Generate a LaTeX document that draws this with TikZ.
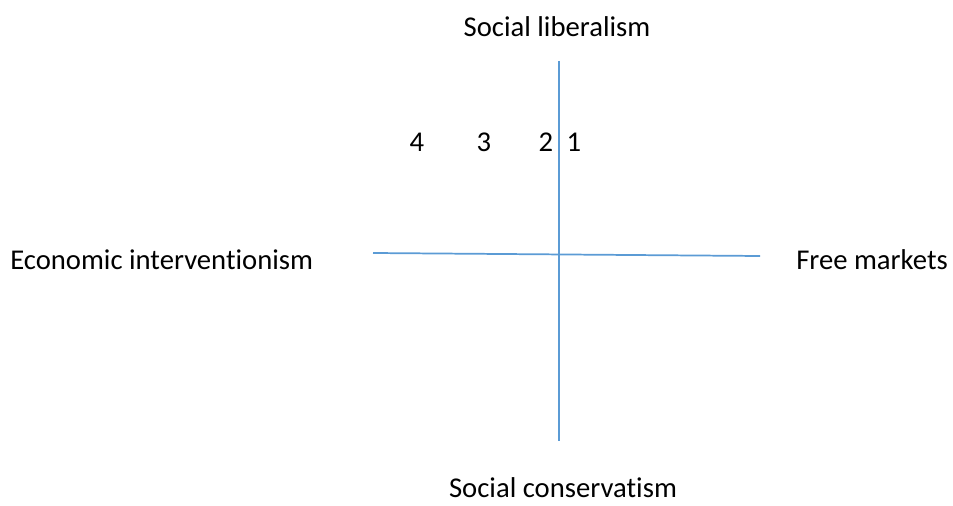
\documentclass[tikz,border=0pt]{standalone}
\usepackage{fontspec}
\setmainfont[Ligatures=NoCommon]{Carlito}
\definecolor{axisblue}{HTML}{5B9BD5}
\begin{document}
\begin{tikzpicture}[x=0.75pt,y=-0.75pt,
    axis/.style={draw=axisblue,line width=1.3pt},
    lbl/.style={inner sep=0pt,font=\fontsize{21.5}{26}\selectfont}]
  \useasboundingbox (0,0) rectangle (953,506);
  \coordinate (top) at (559,61);
  \coordinate (bottom) at (559,441);
  \coordinate (left) at (373,253);
  \coordinate (right) at (760,256);
  \draw [axis] (top) -- (bottom);
  \draw [axis] (left) -- (right);
  \node [lbl,anchor=base] (liberal) at (557,37) {Social liberalism};
  \node [lbl,anchor=base] (conserv) at (563,497) {Social conservatism};
  \node [lbl,anchor=base west] (interv) at (10,269) {Economic interventionism};
  \node [lbl,anchor=base east] (freem) at (948,269) {Free markets};
  \node [lbl,anchor=base] (four) at (417,152) {4};
  \node [lbl,anchor=base] (three) at (484,152) {3};
  \node [lbl,anchor=base] (two) at (546,152) {2};
  \node [lbl,anchor=base] (one) at (574,152) {1};
\end{tikzpicture}
\end{document}
